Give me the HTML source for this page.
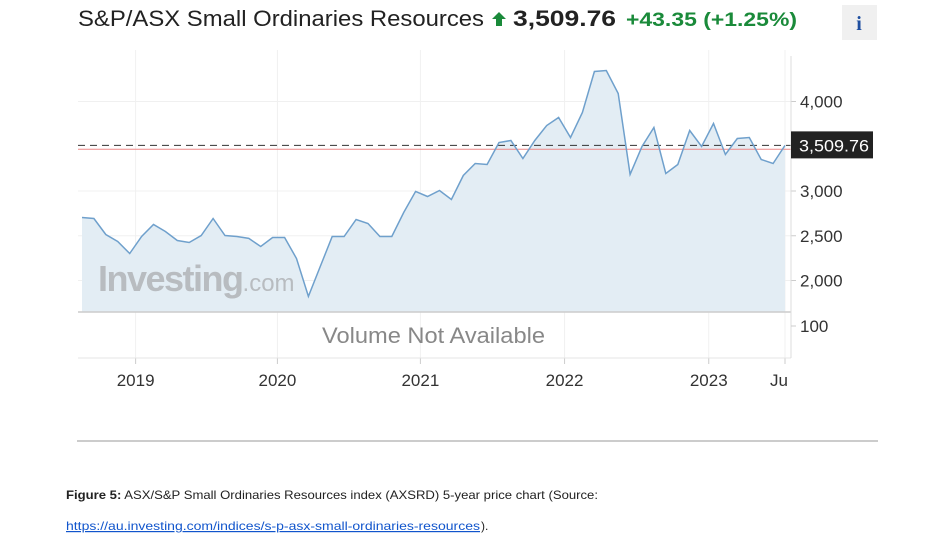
<!DOCTYPE html>
<html><head><meta charset="utf-8">
<style>
body{margin:0;background:#fff;width:941px;height:538px;overflow:hidden;font-family:"Liberation Sans",sans-serif;}
svg{display:block}
</style></head>
<body>
<svg id="chart" width="941" height="538" viewBox="0 0 941 538" xmlns="http://www.w3.org/2000/svg" font-family="Liberation Sans, sans-serif">
  <text x="78" y="26" font-size="22" fill="#222" textLength="406" lengthAdjust="spacingAndGlyphs">S&amp;P/ASX Small Ordinaries Resources</text>
  <path d="M499 12 L506 19 L502 19 L502 26 L496 26 L496 19 L492 19 Z" fill="#1a8a3a"/>
  <text x="513" y="26" font-size="22" font-weight="bold" fill="#222" textLength="103" lengthAdjust="spacingAndGlyphs">3,509.76</text>
  <text x="626" y="26" font-size="19" font-weight="bold" fill="#1a8a3a" textLength="171" lengthAdjust="spacingAndGlyphs">+43.35  (+1.25%)</text>
  <rect x="842" y="5" width="35" height="35" fill="#f0f0f0"/>
  <text x="859" y="30" font-size="20" font-weight="bold" fill="#1f4fa0" text-anchor="middle" font-family="Liberation Serif, serif">i</text>
  <g id="grid"></g>
  <g id="plot"></g>
  <text x="98" y="291" font-size="36" font-weight="bold" fill="#b8bcc0" letter-spacing="-1.5">Investing<tspan font-size="24" font-weight="normal" letter-spacing="0">.com</tspan></text>
  <text x="322" y="343" font-size="22" fill="#888" textLength="223" lengthAdjust="spacingAndGlyphs">Volume Not Available</text>
  <g id="axes"></g>
  <line x1="77" y1="441" x2="878" y2="441" stroke="#ccc" stroke-width="2"/>
  <text x="66" y="499" font-size="12" fill="#222" textLength="532" lengthAdjust="spacingAndGlyphs"><tspan font-weight="bold">Figure 5:</tspan> ASX/S&amp;P Small Ordinaries Resources index (AXSRD) 5-year price chart (Source:</text>
  <text x="66" y="530" font-size="12" fill="#1155cc" text-decoration="underline" textLength="414" lengthAdjust="spacingAndGlyphs">https://au.investing.com/indices/s-p-asx-small-ordinaries-resources</text>
  <text x="481" y="530" font-size="12" fill="#222">).</text>
</svg>
<script>
const values = [2704,2693,2514,2436,2302,2492,2626,2548,2447,2425,2503,2693,2503,2492,2470,2380,2481,2481,2246,1822,2157,2492,2492,2682,2637,2492,2492,2760,2995,2939,3006,2905,3173,3307,3296,3542,3564,3363,3564,3732,3821,3598,3877,4335,4346,4089,3185,3497,3710,3196,3296,3676,3497,3754,3408,3587,3598,3352,3307,3510];
const yTicks = [2000,2500,3000,3500,4000];
const yTickLabels = ["2,000","2,500","3,000","3,500","4,000"];
const xYears = ["2019","2020","2021","2022","2023","Ju"];
const xYearIdx = [4.5,16.4,28.4,40.5,52.6,59];
const lastPrice = 3509.76;
const prevClose = 3466.41;

const NS = "http://www.w3.org/2000/svg";
const x0 = 82, x1 = 785, plotTop = 50, plotBottom = 312;
function xs(i){ return x0 + (x1 - x0) * i / (values.length - 1); }
function ys(v){ return 191 - (v - 3000) * 0.0895; }
function mk(tag, attrs, parent){
  const e = document.createElementNS(NS, tag);
  for (const k in attrs) e.setAttribute(k, attrs[k]);
  parent.appendChild(e); return e;
}
const grid = document.getElementById('grid');
const plot = document.getElementById('plot');
const axes = document.getElementById('axes');

yTicks.forEach((t, i) => {
  if (t === 3500) return;
  const l = mk('line', {x1:78, x2:791, y1:ys(t), y2:ys(t), stroke:'#f0f0f0'}, grid);
  
  
  const tk = mk('line', {x1:791, x2:796, y1:ys(t), y2:ys(t), stroke:'#ccc'}, axes);
  
  
  const tx = mk('text', {x:800, y:ys(t)+6, 'font-size':17, fill:'#333'}, axes);
  
  
  tx.textContent = yTickLabels[i];
});
xYears.forEach((lab, i) => {
  const x = xs(xYearIdx[i]);
  const g = mk('line', {x1:x, x2:x, y1:plotTop, y2:358, stroke:'#f0f0f0'}, grid);
  
  
  const tk = mk('line', {x1:x, x2:x, y1:358, y2:364, stroke:'#ccc'}, axes);
  
  
  const t = mk('text', {x: i === xYears.length-1 ? x-6 : x, y:386, 'font-size':17, fill:'#333', 'text-anchor':'middle'}, axes);
  
  
  t.textContent = lab;
});

let d = '';
values.forEach((v, i) => { d += (i ? 'L' : 'M') + xs(i).toFixed(1) + ' ' + ys(v).toFixed(1) + ' '; });
const area = mk('path', {d: d + 'L' + xs(values.length-1) + ' ' + plotBottom + ' L' + x0 + ' ' + plotBottom + ' Z', fill:'#e3edf4'}, plot);


const prev = mk('line', {x1:78, x2:791, y1:ys(prevClose), y2:ys(prevClose), stroke:'#e88', 'stroke-width':1}, plot);


const dash = mk('line', {x1:78, x2:791, y1:ys(lastPrice), y2:ys(lastPrice), stroke:'#333', 'stroke-dasharray':'7 5', 'stroke-width':1}, plot);


const line = mk('path', {d:d, fill:'none', stroke:'#6fa0cc', 'stroke-width':1.5}, plot);



const base = mk('line', {x1:78, x2:791, y1:312, y2:312, stroke:'#ccc', 'stroke-width':1.5}, axes);


const vb = mk('line', {x1:78, x2:791, y1:358, y2:358, stroke:'#e4e4e4'}, axes);


const ax = mk('line', {x1:791, x2:791, y1:56, y2:358, stroke:'#ddd'}, axes);


const vt = mk('line', {x1:791, x2:796, y1:326, y2:326, stroke:'#ccc'}, axes);


const vl = mk('text', {x:800, y:332, 'font-size':17, fill:'#333'}, axes);


vl.textContent = '100';

const py = ys(lastPrice);
const box = mk('rect', {x:791, y:py-14, width:82, height:27, fill:'#222'}, axes);


const bt = mk('text', {x:799, y:py+6, 'font-size':17, fill:'#fff', textLength:70, lengthAdjust:'spacingAndGlyphs'}, axes);


bt.textContent = lastPrice.toLocaleString('en-US', {minimumFractionDigits:2});
</script>
</body></html>
